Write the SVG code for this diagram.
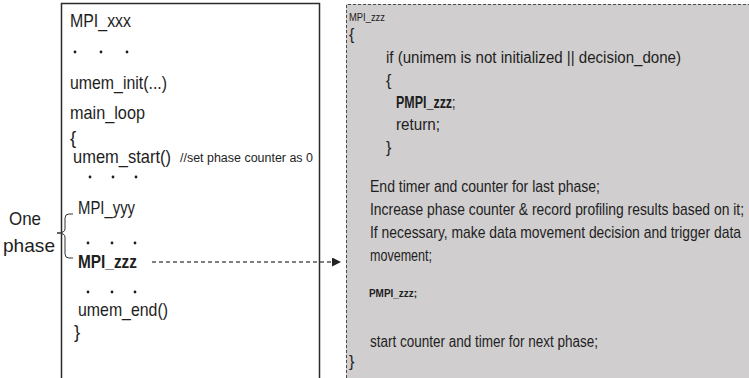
<svg xmlns="http://www.w3.org/2000/svg" width="749" height="378" viewBox="0 0 749 378">
  <style>
    text { font-family: "Liberation Sans", Arial, sans-serif; fill: #1e1e1e; }
    .code { font-size: 18.5px; }
    .note { font-size: 12.5px; }
    .body { font-size: 16px; }
    .small { font-size: 11.5px; }
    .b { font-weight: bold; }
  </style>
  <defs>
    <marker id="arrowhead" viewBox="0 0 10 10" refX="10" refY="5" markerWidth="9" markerHeight="9" markerUnits="userSpaceOnUse" orient="auto">
      <path d="M0,0 L10,5 L0,10 Z" fill="#222"/>
    </marker>
  </defs>

  <rect width="749" height="378" fill="#ffffff"/>

  <!-- caller: application code -->
  <g id="caller">
    <path d="M61.5,378 V3.5 H319.5 V378" fill="none" stroke="#2b2b2b" stroke-width="1.5"/>
    <text class="code" x="70" y="27" textLength="61" lengthAdjust="spacingAndGlyphs">MPI_xxx</text>
    <g fill="#1e1e1e"><circle cx="75" cy="52" r="1.4"/><circle cx="101" cy="52" r="1.4"/><circle cx="127" cy="52" r="1.4"/></g>
    <text class="code" x="70" y="89" textLength="97" lengthAdjust="spacingAndGlyphs">umem_init(...)</text>
    <text class="code" x="70" y="119" textLength="75" lengthAdjust="spacingAndGlyphs">main_loop</text>
    <text class="code" x="70" y="144">{</text>
    <text class="code" x="73" y="163" textLength="98" lengthAdjust="spacingAndGlyphs">umem_start()</text>
    <text class="note" x="180" y="162" textLength="133" lengthAdjust="spacingAndGlyphs">//set phase counter as 0</text>
    <g fill="#1e1e1e"><circle cx="90" cy="177" r="1.4"/><circle cx="113" cy="177" r="1.4"/><circle cx="136" cy="177" r="1.4"/></g>
    <text class="code" x="78" y="214" textLength="57" lengthAdjust="spacingAndGlyphs">MPI_yyy</text>
    <g fill="#1e1e1e"><circle cx="88" cy="243" r="1.4"/><circle cx="112" cy="243" r="1.4"/><circle cx="135" cy="243" r="1.4"/></g>
    <text class="code b" x="78" y="268" textLength="59" lengthAdjust="spacingAndGlyphs">MPI_zzz</text>
    <g fill="#1e1e1e"><circle cx="88" cy="292" r="1.4"/><circle cx="112" cy="292" r="1.4"/><circle cx="135" cy="292" r="1.4"/></g>
    <text class="code" x="78" y="316" textLength="90" lengthAdjust="spacingAndGlyphs">umem_end()</text>
    <text class="code" x="74" y="338">}</text>
  </g>

  <!-- one phase brace and label -->
  <g id="phase">
    <path d="M73,214 H69 Q65,214 65,218 V229 Q65,233 57,233 Q65,233 65,237 V254 Q65,258 69,258 H73" fill="none" stroke="#333" stroke-width="1"/>
    <text class="code" x="9" y="225" textLength="32" lengthAdjust="spacingAndGlyphs">One</text>
    <text class="code" x="3" y="252" textLength="52" lengthAdjust="spacingAndGlyphs">phase</text>
  </g>

  <!-- wrapper: MPI_zzz interposition -->
  <g id="wrapper">
    <rect x="346" y="4" width="403" height="374" fill="#d0cece"/>
    <path d="M346.5,378 V4.5 H749" fill="none" stroke="#4a4a4a" stroke-width="1" stroke-dasharray="3,2"/>
    <text class="small" x="349" y="21" textLength="36" lengthAdjust="spacingAndGlyphs">MPI_zzz</text>
    <text class="body" x="349" y="40">{</text>
    <text class="body" x="386" y="63" textLength="295" lengthAdjust="spacingAndGlyphs">if (unimem is not initialized  || decision_done)</text>
    <text class="body" x="386" y="86">{</text>
    <text class="body" transform="translate(396,108) scale(0.78,1)"><tspan class="b">PMPI_zzz</tspan>;</text>
    <text class="body" x="396" y="130" textLength="44" lengthAdjust="spacingAndGlyphs">return;</text>
    <text class="body" x="386" y="153">}</text>
    <text class="body" x="370" y="192" textLength="230" lengthAdjust="spacingAndGlyphs">End timer and counter for last phase;</text>
    <text class="body" transform="translate(370,215) scale(0.78,1)" textLength="479.5" lengthAdjust="spacingAndGlyphs">Increase phase counter &amp; record profiling results based on it;</text>
    <text class="body" transform="translate(370,238) scale(0.78,1)" textLength="475.6" lengthAdjust="spacingAndGlyphs">If necessary,  make data movement  decision and trigger data</text>
    <text class="body" x="370" y="261" textLength="62" lengthAdjust="spacingAndGlyphs">movement;</text>
    <text class="small b" x="369" y="297" textLength="48" lengthAdjust="spacingAndGlyphs">PMPI_zzz;</text>
    <text class="body" x="370" y="347" textLength="228" lengthAdjust="spacingAndGlyphs">start counter and timer for next phase;</text>
    <text class="body" x="349" y="367">}</text>
  </g>

  <!-- call redirection -->
  <g id="connectors">
    <line x1="152" y1="262" x2="341" y2="262" stroke="#555" stroke-width="1.5" stroke-dasharray="4,3" marker-end="url(#arrowhead)"/>
  </g>
</svg>
